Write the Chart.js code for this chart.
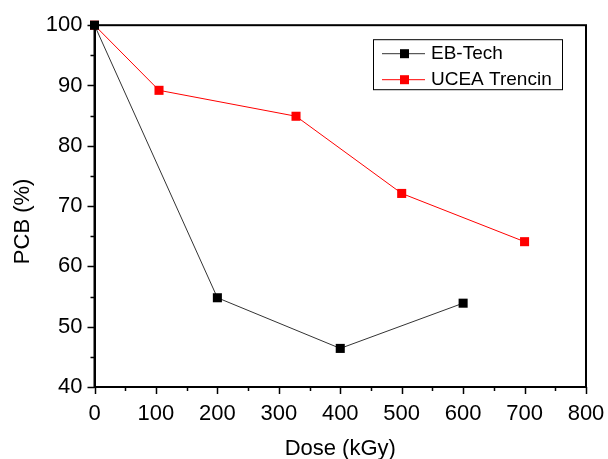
<!DOCTYPE html>
<html>
<head>
<meta charset="utf-8">
<script src="https://cdn.jsdelivr.net/npm/chart.js@4/dist/chart.umd.min.js"></script>
<style>
  html, body { margin: 0; padding: 0; background: #fff; }
</style>
</head>
<body>
<canvas id="chart" width="608" height="459"></canvas>
<script>
// values
const seriesNames = ['EB-Tech', 'UCEA Trencin'];
const ebTechDose = [0, 200, 400, 600];
const ebTechPcb = [100, 54.8, 46.4, 53.9];
const uceaDose = [0, 105, 328, 500, 700];
const uceaPcb = [100, 89.2, 84.9, 72.1, 64.1];

const xMin = 0, xMax = 800, xStep = 100;
const yMin = 40, yMax = 100, yStep = 10;

const FONT = 'Arial, "Liberation Sans", sans-serif';

const toPoints = (xs, ys) => xs.map((x, i) => ({x, y: ys[i]}));

// frame + outward major/minor ticks
const framePlugin = {
    id: 'frame',
    afterDraw(chart) {
        const {ctx, chartArea: a, scales: {x, y}} = chart;
        ctx.save();
        ctx.strokeStyle = '#000';
        ctx.lineWidth = 2;
        ctx.strokeRect(a.left, a.top, a.right - a.left, a.bottom - a.top);
        ctx.lineWidth = 1.5;
        ctx.beginPath();
        for (let v = xMin; v <= xMax; v += xStep / 2) {
            const px = Math.round(x.getPixelForValue(v)) + 0.5;
            const len = v % xStep === 0 ? 7 : 4;
            ctx.moveTo(px, a.bottom);
            ctx.lineTo(px, a.bottom + len);
        }
        for (let v = yMin; v <= yMax; v += yStep / 2) {
            const py = Math.round(y.getPixelForValue(v)) + 0.5;
            const len = v % yStep === 0 ? 7 : 4;
            ctx.moveTo(a.left, py);
            ctx.lineTo(a.left - len, py);
        }
        ctx.stroke();
        ctx.restore();
    }
};

// boxed legend inside the plot, line sample with marker in the middle
const legendPlugin = {
    id: 'boxLegend',
    afterDraw(chart) {
        const {ctx, chartArea: a} = chart;
        const w = 189, h = 50;
        const left = a.right - 24 - w, top = a.top + 14;
        ctx.save();
        ctx.strokeStyle = '#000';
        ctx.lineWidth = 1;
        ctx.strokeRect(left + 0.5, top + 0.5, w, h);
        ctx.font = '19px ' + FONT;
        ctx.textBaseline = 'middle';
        chart.data.datasets.forEach((ds, i) => {
            const cy = top + 14 + i * 26;
            ctx.strokeStyle = ds.borderColor;
            ctx.lineWidth = 1;
            ctx.beginPath();
            ctx.moveTo(left + 9, cy + 0.5);
            ctx.lineTo(left + 52, cy + 0.5);
            ctx.stroke();
            ctx.fillStyle = ds.pointBackgroundColor;
            ctx.fillRect(left + 27, cy - 4, 9, 9);
            ctx.fillStyle = '#000';
            ctx.fillText(ds.label, left + 58, cy + 1);
        });
        ctx.restore();
    }
};

new Chart(document.getElementById('chart'), {
    type: 'scatter',
    data: {
        datasets: [
            {
                label: seriesNames[0],
                data: toPoints(ebTechDose, ebTechPcb),
                showLine: true,
                borderColor: '#333',
                borderWidth: 1,
                pointStyle: 'rect',
                pointRadius: 6.4,
                pointBorderWidth: 0,
                pointBackgroundColor: '#000',
                clip: false
            },
            {
                label: seriesNames[1],
                data: toPoints(uceaDose, uceaPcb),
                showLine: true,
                borderColor: '#ff0000',
                borderWidth: 1,
                pointStyle: 'rect',
                pointRadius: 6.4,
                pointBorderWidth: 0,
                pointBackgroundColor: '#ff0000',
                clip: false
            }
        ]
    },
    options: {
        responsive: false,
        animation: false,
        layout: {padding: {top: 25, right: 22, left: 0, bottom: 0}},
        plugins: {legend: {display: false}, tooltip: {enabled: false}},
        scales: {
            x: {
                type: 'linear',
                min: xMin, max: xMax,
                grid: {drawOnChartArea: false, drawTicks: false},
                border: {color: '#000', width: 2},
                ticks: {stepSize: xStep, color: '#000', padding: 14, font: {family: FONT, size: 22}, maxRotation: 0},
                title: {display: true, text: 'Dose (kGy)', color: '#000', font: {family: FONT, size: 22, lineHeight: 1}, padding: {top: 0, bottom: -1}},
                afterFit: scale => {
                    scale.height = 459 - 387;
                    scale.paddingLeft = 0;
                    scale.paddingRight = 0;
                }
            },
            y: {
                min: yMin, max: yMax,
                grid: {drawOnChartArea: false, drawTicks: false},
                border: {color: '#000', width: 2},
                ticks: {stepSize: yStep, color: '#000', padding: 12, font: {family: FONT, size: 22}},
                // trailing spaces push the rotated label a little below the axis centre, as in the figure
                title: {display: true, text: 'PCB (%)\u00a0\u00a0\u00a0\u00a0\u00a0', color: '#000', font: {family: FONT, size: 22, lineHeight: 1}, padding: {top: 12, bottom: 0}},
                afterFit: scale => { scale.width = 94.5; }
            }
        }
    },
    plugins: [framePlugin, legendPlugin]
});
</script>
</body>
</html>
